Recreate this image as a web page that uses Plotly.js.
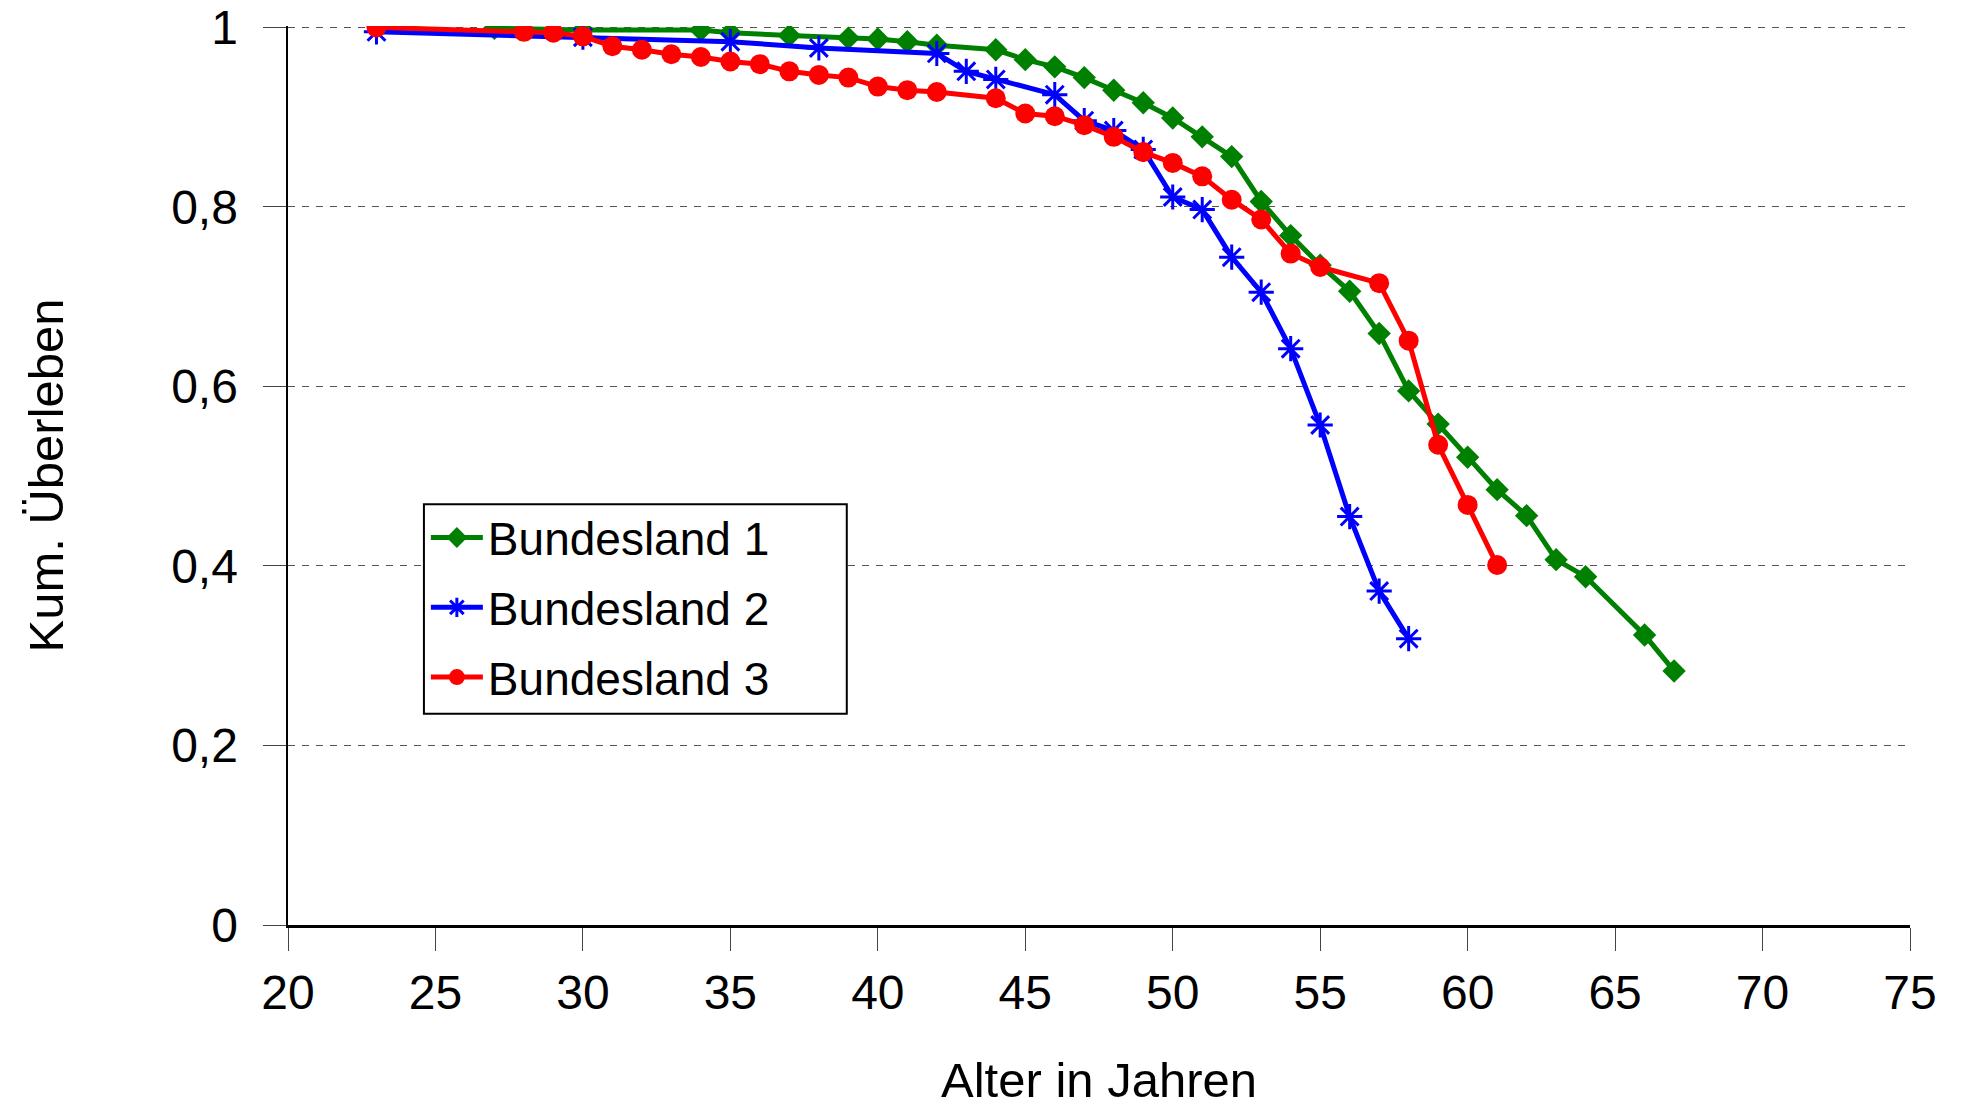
<!DOCTYPE html>
<html>
<head>
<meta charset="utf-8">
<script src="https://cdn.plot.ly/plotly-3.0.1.min.js"></script>
<style>
  html, body { margin: 0; padding: 0; background: #fff; }
  #chart { width: 1963px; height: 1107px; }
</style>
</head>
<body>
<div id="chart"></div>
<script>
// ---- data ----
const seriesNames = ['Bundesland 1', 'Bundesland 2', 'Bundesland 3'];

const age1 = [27, 30, 34, 35, 37, 39, 40, 41, 42, 44, 45, 46, 47, 48, 49, 50, 51, 52, 53, 54, 55, 56, 57, 58, 59, 60, 61, 62, 63, 64, 66, 67];
const surv1 = [0.999, 0.997, 0.997, 0.994, 0.991, 0.988, 0.987, 0.984, 0.980, 0.975, 0.964, 0.956, 0.944, 0.930, 0.916, 0.899, 0.878, 0.856, 0.806, 0.768, 0.735, 0.706, 0.659, 0.595, 0.558, 0.521, 0.485, 0.456, 0.407, 0.388, 0.323, 0.283];

const age2 = [23, 30, 35, 38, 42, 43, 44, 46, 47, 48, 49, 50, 51, 52, 53, 54, 55, 56, 57, 58];
const surv2 = [0.995, 0.989, 0.984, 0.977, 0.971, 0.951, 0.942, 0.925, 0.896, 0.885, 0.864, 0.811, 0.797, 0.744, 0.705, 0.642, 0.557, 0.455, 0.372, 0.319];

const age3 = [23, 28, 29, 30, 31, 32, 33, 34, 35, 36, 37, 38, 39, 40, 41, 42, 44, 45, 46, 47, 48, 49, 50, 51, 52, 53, 54, 55, 57, 58, 59, 60, 61];
const surv3 = [1.000, 0.995, 0.994, 0.990, 0.979, 0.975, 0.970, 0.967, 0.962, 0.959, 0.951, 0.947, 0.944, 0.934, 0.930, 0.928, 0.921, 0.904, 0.901, 0.891, 0.878, 0.861, 0.849, 0.834, 0.808, 0.786, 0.748, 0.733, 0.715, 0.651, 0.535, 0.468, 0.401];

const xTickVals = [20, 25, 30, 35, 40, 45, 50, 55, 60, 65, 70, 75];
const yTickVals = [0, 0.2, 0.4, 0.6, 0.8, 1];

const xTitle = 'Alter in Jahren';
const yTitle = 'Kum. Überleben';

// ---- chart ----
const FONT = 'Liberation Sans, Arial, Helvetica, sans-serif';

const traces = [
  {
    x: age1, y: surv1, name: seriesNames[0], legendgroup: 'g1',
    type: 'scatter', mode: 'lines+markers',
    line: { color: '#008000', width: 5 },
    marker: { symbol: 'diamond', size: 18, color: '#008000' }
  },
  {
    x: age2, y: surv2, name: seriesNames[1], legendgroup: 'g2',
    type: 'scatter', mode: 'lines+markers',
    line: { color: '#0000ff', width: 5 },
    marker: { symbol: 'asterisk-open', size: 21, color: '#0000ff', line: { color: '#0000ff', width: 3 } }
  },
  {
    x: age3, y: surv3, name: seriesNames[2], legendgroup: 'g3',
    type: 'scatter', mode: 'lines+markers',
    line: { color: '#ff0000', width: 5 },
    marker: { symbol: 'circle', size: 20, color: '#ff0000' }
  }
];

// legend frame (decoration, paper coordinates)
const legendFrame = { x0: 0.0838, x1: 0.3445, y0: 0.235, y1: 0.468 };

const layout = {
  width: 1963,
  height: 1107,
  paper_bgcolor: '#ffffff',
  plot_bgcolor: '#ffffff',
  separators: ',.',
  font: { family: FONT, color: '#000', size: 48 },
  margin: { l: 288, r: 53, t: 26, b: 182, autoexpand: false },
  showlegend: true,
  legend: {
    x: 0.085, y: 0.4715, xanchor: 'left', yanchor: 'top',
    bgcolor: 'rgba(0,0,0,0)', borderwidth: 0,
    font: { family: FONT, size: 46, color: '#000' },
    traceorder: 'grouped', tracegroupgap: 7,
    itemwidth: 52
  },
  shapes: [{
    type: 'rect', xref: 'paper', yref: 'paper', layer: 'above',
    x0: legendFrame.x0, x1: legendFrame.x1, y0: legendFrame.y0, y1: legendFrame.y1,
    fillcolor: '#ffffff', line: { color: '#000', width: 2 }
  }],
  xaxis: {
    range: [20, 75],
    tickmode: 'array', tickvals: xTickVals,
    ticks: 'outside', ticklen: 23, tickwidth: 1, tickcolor: '#444',
    showline: true, linecolor: '#000', linewidth: 3,
    showgrid: false, zeroline: false,
    tickfont: { family: FONT, size: 48, color: '#000' },
    title: { text: xTitle, font: { family: FONT, size: 49, color: '#000' }, standoff: 61 },
    automargin: false
  },
  yaxis: {
    range: [0, 1.0015],
    tickmode: 'array', tickvals: yTickVals,
    ticks: 'outside', ticklen: 23, tickwidth: 1, tickcolor: '#444',
    ticklabelstandoff: 15,
    showline: true, linecolor: '#000', linewidth: 2.5,
    showgrid: true, gridcolor: '#555', gridwidth: 1, griddash: '7px,7px',
    zeroline: false,
    tickfont: { family: FONT, size: 48, color: '#000' },
    title: { text: yTitle, font: { family: FONT, size: 49, color: '#000' }, standoff: 92 },
    automargin: false
  }
};

Plotly.newPlot('chart', traces, layout, { displayModeBar: false, staticPlot: true });
</script>
</body>
</html>
